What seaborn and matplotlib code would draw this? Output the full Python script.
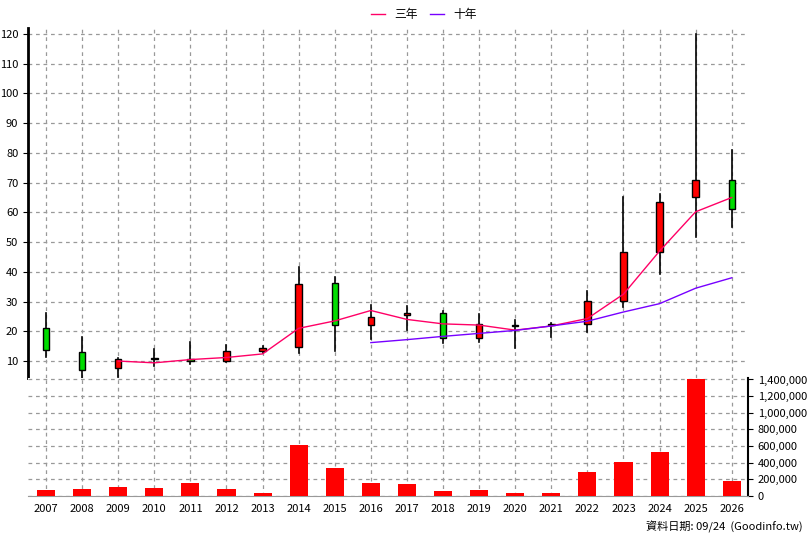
import matplotlib
matplotlib.use("Agg")
import matplotlib.pyplot as plt
import seaborn as sns
import numpy as np
import pandas as pd
from matplotlib.ticker import FuncFormatter

years = [str(y) for y in range(2007, 2027)]
opens  = [21.0, 13.2, 7.5, 10.6, 10.6, 10.1, 13.5, 14.6, 36.1, 22.0, 25.4, 26.0, 17.6, 21.8, 22.0, 22.3, 30.3, 46.8, 65.0, 70.8]
highs  = [26.2, 18.2, 11.1, 14.0, 16.4, 15.4, 15.0, 41.5, 38.2, 28.8, 28.6, 26.9, 25.8, 23.8, 22.7, 33.5, 65.3, 66.2, 120.0, 81.0]
lows   = [11.4, 3.6, 4.7, 8.3, 9.0, 9.7, 12.8, 12.8, 13.5, 17.5, 20.4, 16.0, 16.5, 14.3, 18.2, 19.9, 28.3, 39.3, 51.8, 55.0]
closes = [13.6, 7.0, 10.7, 10.8, 10.1, 13.3, 14.4, 35.9, 22.0, 24.7, 26.1, 17.6, 22.3, 22.2, 22.1, 30.1, 46.6, 63.4, 70.8, 61.2]
ma3  = [np.nan, np.nan, 10.0, 9.4, 10.5, 11.2, 12.4, 21.0, 23.5, 27.0, 24.0, 22.5, 22.1, 20.4, 21.8, 24.3, 32.5, 47.0, 60.2, 65.0]
ma10 = [np.nan]*9 + [16.2, 17.2, 18.3, 19.3, 20.3, 21.8, 23.4, 26.5, 29.3, 34.5, 38.0]
volume = [72000, 84000, 108000, 96000, 156000, 84000, 36000, 613000, 336000, 156000, 144000, 60000, 72000, 36000, 36000, 288000, 409000, 529000, 1400000, 180000]

plt.rcParams['font.family'] = ['Noto Sans CJK TC', 'DejaVu Sans']
plt.rcParams['font.size'] = 8
fig = plt.figure(figsize=(8.08, 5.4), dpi=100)
W, H = 808, 540
ax = fig.add_axes([28/W, (H-378)/H, 720/W, 350/H])
axv = fig.add_axes([28/W, (H-496)/H, 720/W, 118/H])
x = np.arange(len(years))
xlim = (-0.5, len(years) - 0.55)
gridkw = dict(ls=(0, (3, 3)), color='#999999', lw=0.9)

# candles
for i in x:
    o, h, l, c = opens[i], highs[i], lows[i], closes[i]
    ax.plot([i, i], [l, h], color='black', lw=1.2, zorder=3)
    col = 'red' if c > o else ('#00dd00' if c < o else 'black')
    lo, hi = min(o, c), max(o, c)
    ax.add_patch(plt.Rectangle((i - 0.09, lo), 0.18, max(hi - lo, 0.3), facecolor=col,
                               edgecolor='black', lw=1, zorder=4))

df = pd.DataFrame({'x': x, '三年': ma3, '十年': ma10})
sns.lineplot(data=df, x='x', y='三年', ax=ax, color='#ff0066', lw=1, label='三年', zorder=5)
sns.lineplot(data=df, x='x', y='十年', ax=ax, color='#7700ff', lw=1, label='十年', zorder=5)
ax.set_xlim(*xlim)
ax.set_ylim(4.3, 122)
ax.set_yticks(range(10, 121, 10))
ax.set_xticks(x)
ax.tick_params(axis='x', length=0, labelbottom=False)
ax.set_xlabel(''); ax.set_ylabel('')
ax.grid(True, **gridkw)
for s in ['top', 'right', 'bottom']:
    ax.spines[s].set_visible(False)
ax.spines['left'].set_linewidth(2)
ax.legend(loc='lower center', bbox_to_anchor=(0.55, 1.0), ncol=2, frameon=False,
          handlelength=1.2, columnspacing=1.0, fontsize=8.5, borderaxespad=0.2)

vdf = pd.DataFrame({'year': years, 'vol': volume})
sns.barplot(data=vdf, x='year', y='vol', ax=axv, color='red', saturation=1, width=0.5, zorder=3)
axv.set_xlim(*xlim)
axv.set_ylim(0, 1418000)
axv.yaxis.tick_right()
axv.set_yticks(range(0, 1400001, 200000))
axv.yaxis.set_major_formatter(FuncFormatter(lambda v, p: f"{int(v):,}"))
axv.set_xlabel(''); axv.set_ylabel('')
axv.grid(True, **gridkw)
axv.set_axisbelow(True)
for s in ['top', 'left']:
    axv.spines[s].set_visible(False)
axv.spines['right'].set_linewidth(1.5)
axv.spines['bottom'].set_color('#999999')
axv.tick_params(axis='x', length=0, pad=6)
fig.text(803/W, (H-527)/H, '資料日期: 09/24  (Goodinfo.tw)', ha='right', va='center', fontsize=8)
fig.savefig('out.png', dpi=100, facecolor='white')
